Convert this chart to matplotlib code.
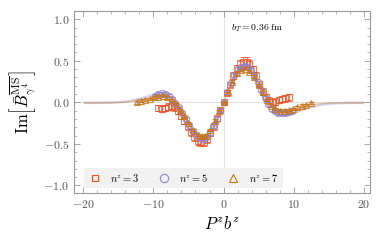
import matplotlib
matplotlib.use("Agg")
import matplotlib.pyplot as plt
from matplotlib.lines import Line2D
import numpy as np

plt.rcParams['font.family'] = 'serif'
plt.rcParams['font.serif'] = ['cmr10']
plt.rcParams['mathtext.fontset'] = 'cm'
plt.rcParams['axes.formatter.use_mathtext'] = True

# n^z = 3 (squares)
x_n3 = [-9.3, -8.8, -8.4, -7.9, -7.4, -7.0, -6.5, -6.0, -5.6, -5.1, -4.6, -4.2, -3.7, -3.3,
        -2.8, -2.3, -1.9, -1.4, -0.9, -0.5, 0.0, 0.5, 0.9, 1.4, 1.9, 2.3, 2.8, 3.3, 3.7,
        4.2, 4.6, 5.1, 5.6, 6.0, 6.5, 7.0, 7.4, 7.9, 8.4, 8.8, 9.3]
y_n3 = [-0.07, -0.08, -0.07, -0.05, -0.04, -0.06, -0.10, -0.16, -0.22, -0.29, -0.36, -0.42,
        -0.46, -0.48, -0.48, -0.44, -0.37, -0.29, -0.19, -0.09, 0.0, 0.11, 0.21, 0.32, 0.41,
        0.46, 0.49, 0.49, 0.46, 0.40, 0.32, 0.22, 0.13, 0.06, 0.02, 0.00, 0.01, 0.03, 0.04,
        0.05, 0.06]
e_n3 = [0.04, 0.04, 0.04, 0.04, 0.04, 0.04, 0.04, 0.04, 0.04, 0.04, 0.04, 0.04, 0.05, 0.05,
        0.05, 0.05, 0.04, 0.04, 0.03, 0.02, 0.01, 0.02, 0.03, 0.04, 0.04, 0.05, 0.05, 0.05,
        0.05, 0.04, 0.04, 0.04, 0.04, 0.04, 0.04, 0.04, 0.04, 0.04, 0.04, 0.04, 0.04]

# n^z = 5 (circles)
x_n5 = [-9.8, -9.3, -8.8, -8.3, -7.8, -7.3, -6.9, -6.4, -5.9, -5.4, -4.9, -4.4, -3.9, -3.4,
        -2.9, -2.5, -2.0, -1.5, -1.0, -0.5, 0.0, 0.5, 1.0, 1.5, 2.0, 2.5, 2.9, 3.4, 3.9, 4.4,
        4.9, 5.4, 5.9, 6.4, 6.9, 7.3, 7.8, 8.3, 8.8, 9.3, 9.8]
y_n5 = [0.08, 0.10, 0.11, 0.10, 0.08, 0.04, -0.01, -0.06, -0.13, -0.20, -0.27, -0.34, -0.39,
        -0.43, -0.44, -0.42, -0.37, -0.29, -0.20, -0.10, 0.0, 0.12, 0.23, 0.33, 0.40, 0.43,
        0.44, 0.43, 0.39, 0.32, 0.24, 0.15, 0.06, -0.02, -0.08, -0.11, -0.13, -0.13, -0.13,
        -0.12, -0.11]
e_n5 = [0.02] * 41

# n^z = 7 (triangles)
x_n7 = [-12.4, -11.8, -11.2, -10.5, -9.9, -9.3, -8.7, -8.1, -7.4, -6.8, -6.2, -5.6, -5.0,
        -4.3, -3.7, -3.1, -2.5, -1.9, -1.2, -0.6, 0.0, 0.6, 1.2, 1.9, 2.5, 3.1, 3.7, 4.3, 5.0,
        5.6, 6.2, 6.8, 7.4, 8.1, 8.7, 9.3, 9.9, 10.5, 11.2, 11.8, 12.4]
y_n7 = [0.0, 0.02, 0.03, 0.04, 0.06, 0.07, 0.08, 0.06, 0.03, -0.02, -0.09, -0.17, -0.25,
        -0.33, -0.39, -0.41, -0.40, -0.33, -0.22, -0.11, 0.0, 0.13, 0.25, 0.35, 0.39, 0.40,
        0.37, 0.31, 0.21, 0.12, 0.03, -0.04, -0.08, -0.10, -0.10, -0.09, -0.08, -0.06,
        -0.04, -0.03, -0.01]
e_n7 = [0.015] * 41

# fit bands
x_band = [-20, -18, -16, -15, -14, -13, -12, -11, -10, -9, -8, -7, -6, -5, -4, -3, -2, -1, 0,
          1, 2, 3, 4, 5, 6, 7, 8, 9, 10, 11, 12, 13, 14, 15, 16, 18, 20]
band5 = [0, 0, 0.003, 0.008, 0.015, 0.03, 0.05, 0.075, 0.10, 0.115, 0.10, 0.04, -0.12, -0.27,
         -0.39, -0.44, -0.37, -0.20, 0, 0.23, 0.40, 0.45, 0.39, 0.24, 0.06, -0.08, -0.13,
         -0.14, -0.12, -0.09, -0.06, -0.04, -0.02, -0.01, -0.005, 0, 0]
band7 = [0, 0, 0.002, 0.005, 0.01, 0.02, 0.03, 0.05, 0.065, 0.075, 0.065, 0.02, -0.10, -0.25,
         -0.37, -0.42, -0.35, -0.20, 0, 0.24, 0.38, 0.41, 0.36, 0.22, 0.04, -0.06, -0.09,
         -0.10, -0.09, -0.07, -0.03, -0.015, -0.008, -0.004, -0.002, 0, 0]

c3 = '#e8542a'
c5 = '#8f86d0'
c7 = '#c8761e'

fig = plt.figure(figsize=(3.82, 2.43), dpi=100)
ax = fig.add_axes([0.194, 0.206, 0.775, 0.749])

ax.axhline(0, color='#e2e2e2', lw=0.8, zorder=0)
ax.axvline(0, color='#e2e2e2', lw=0.8, zorder=0)

b5 = np.array(band5)
b7 = np.array(band7)
ax.fill_between(x_band, b5 - 0.015, b5 + 0.015, color=c5, alpha=0.35, lw=0, zorder=1)
ax.fill_between(x_band, b7 - 0.01, b7 + 0.01, color=c7, alpha=0.35, lw=0, zorder=1)

ax.errorbar(x_n5, y_n5, yerr=e_n5, fmt='o', ms=4.5, mfc='none', mec=c5, ecolor=c5,
            mew=0.8, elinewidth=0.8, capsize=2, alpha=0.8, zorder=3)
ax.errorbar(x_n3, y_n3, yerr=e_n3, fmt='s', ms=4.5, mfc='none', mec=c3, ecolor=c3,
            mew=0.8, elinewidth=0.8, capsize=2.5, alpha=0.75, zorder=2)
ax.errorbar(x_n7, y_n7, yerr=e_n7, fmt='^', ms=4.5, mfc='none', mec=c7, ecolor=c7,
            mew=0.8, elinewidth=0.8, capsize=2, alpha=0.85, zorder=4)

ax.set_xlim(-21.3, 20.9)
ax.set_ylim(-1.09, 1.1)
ax.set_xticks([-20, -10, 0, 10, 20])
ax.set_xticks(np.arange(-20, 21, 2), minor=True)
ax.set_yticks([-1.0, -0.5, 0.0, 0.5, 1.0])
ax.set_yticks(np.arange(-1.0, 1.01, 0.1), minor=True)
ax.yaxis.set_major_formatter(matplotlib.ticker.FuncFormatter(lambda v, p: r'$%.1f$' % v))
ax.xaxis.set_major_formatter(matplotlib.ticker.FuncFormatter(lambda v, p: r'$%d$' % v))
ax.tick_params(which='both', direction='in', top=True, right=True, color='#999999',
               labelcolor='#555555', labelsize=8.5)
ax.tick_params(which='major', length=4, width=0.6)
ax.tick_params(which='minor', length=2, width=0.5)
for s in ax.spines.values():
    s.set_color('#999999')
    s.set_linewidth(0.8)

ax.text(1.0, 0.89, r'$b_T = 0.36\ \mathrm{fm}$', fontsize=7, va='center', ha='left')

ax.set_xlabel(r'$P^z b^z$', fontsize=12)
ax.set_ylabel(r'$\mathrm{Im}\left[\bar{B}^{\overline{\mathrm{MS}}}_{\gamma^4}\right]$',
              fontsize=12)

handles = [
    Line2D([], [], ls='none', marker='s', ms=5, mfc='none', mec=c3, mew=0.8),
    Line2D([], [], ls='none', marker='o', ms=6, mfc='none', mec=c5, mew=0.8),
    Line2D([], [], ls='none', marker='^', ms=6, mfc='none', mec=c7, mew=0.8),
]
labels = [r'$n^z=3$', r'$n^z=5$', r'$n^z=7$']
leg = ax.legend(handles, labels, ncol=3,
                loc='lower left', bbox_to_anchor=(0.034, 0.027, 0.67, 0.137),
                mode='expand', fontsize=7.5, frameon=True, fancybox=False,
                facecolor='#f1f1f1', edgecolor='none', framealpha=1,
                handletextpad=0.9, handlelength=1.2, borderaxespad=0)

fig.savefig('out.png', dpi=100)
